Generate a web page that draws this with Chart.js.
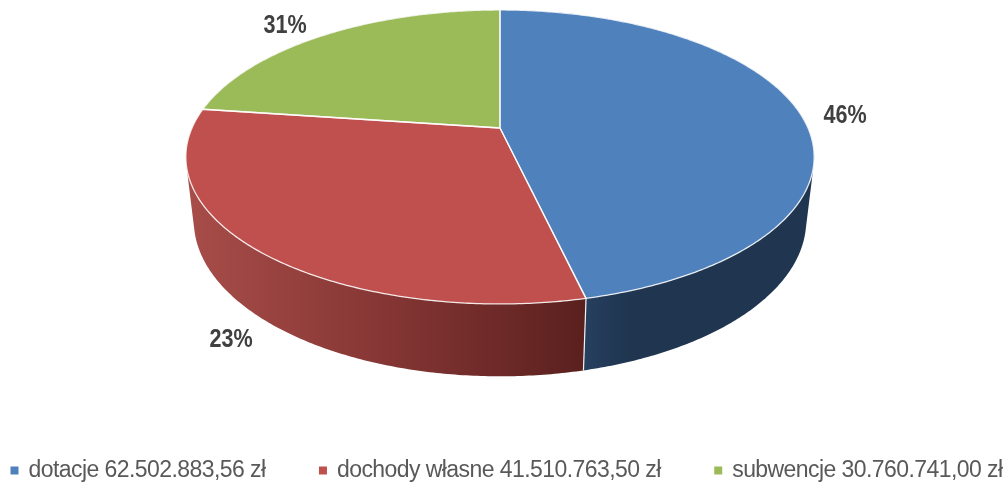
<!DOCTYPE html>
<html><head><meta charset="utf-8">
<style>html,body{margin:0;padding:0;background:#fff;overflow:hidden;width:1006px;height:483px}
#wrap{position:absolute;left:-43px;top:0;width:1150px;height:492px}</style>
<script src="https://cdn.jsdelivr.net/npm/chart.js@4"></script></head>
<body><div id="wrap"><canvas id="c" width="1150" height="492"></canvas></div>
<script>
const categories = ['dotacje 62.502.883,56 zł','dochody własne 41.510.763,50 zł','subwencje 30.760.741,00 zł'];
const values = [62502883.56, 41510763.50, 30760741.00];
const percentLabels = ['46%','23%','31%'];
const topColors = ['#4f81bd','#c0504d','#9bbb59'];

const OFFX = 43;
const labelCenters = [[845,114],[231,338],[285,24]];
const view = {cx:500+OFFX, cy:128, R:308, S:141.3, k:0.197, drop:64.3, c:0.025};
const wallStops = [
  [[0,'#26405f'],[0.2,'#1f3550'],[1,'#1f3550']],
  [[0,'#a84d49'],[0.5,'#853634'],[1,'#5a201e']],
  [[0,'#7c964a'],[1,'#5f7336']]
];
function topPt(a){const u=Math.cos(a),v=Math.sin(a),w=1-view.k*v;return [view.cx+view.R*u/w,view.cy+view.S*v/w];}
function botPt(a){const u=Math.cos(a),v=Math.sin(a),w=1-view.k*v+view.c;return [view.cx+view.R*u/w,view.cy+(view.S*v+view.drop)/w];}
function angles(a0,a1){const n=Math.max(2,Math.ceil((a1-a0)/0.01));const r=[];for(let i=0;i<=n;i++)r.push(a0+(a1-a0)*i/n);return r;}

const pie3d = {
  id:'pie3d',
  beforeLayout(chart){chart.ctx.letterSpacing='-0.57px';},
  beforeDraw(chart){chart.ctx.letterSpacing='-0.57px';},
  beforeDatasetDraw(chart,args){
    const ctx=chart.ctx, arcs=chart.getDatasetMeta(args.index).data;
    ctx.save();
    arcs.forEach((arc,i)=>{
      const as=angles(arc.startAngle,arc.endAngle);
      let minX=Infinity,maxX=-Infinity;
      ctx.beginPath();
      for(let j=0;j<as.length-1;j++){
        const q=[topPt(as[j]),topPt(as[j+1]),botPt(as[j+1]),botPt(as[j])];
        let area=0;q.forEach((p,m)=>{const n=q[(m+1)%4];area+=p[0]*n[1]-n[0]*p[1];});
        const o=area<0?q.slice().reverse():q;
        ctx.moveTo(o[0][0],o[0][1]);o.slice(1).forEach(p=>ctx.lineTo(p[0],p[1]));ctx.closePath();
        q.forEach(p=>{if(Math.sin(as[j])>0){minX=Math.min(minX,p[0]);maxX=Math.max(maxX,p[0]);}});
      }
      if(minX===Infinity){minX=0;maxX=1;}
      const g=ctx.createLinearGradient(minX,0,maxX,0);
      wallStops[i].forEach(s=>g.addColorStop(s[0],s[1]));
      ctx.fillStyle=g;ctx.fill();
    });
    arcs.forEach(arc=>{
      if(Math.sin(arc.startAngle)>0.5){
        const t=topPt(arc.startAngle),b=botPt(arc.startAngle);
        ctx.strokeStyle='#f2f2f2';ctx.lineWidth=1.2;
        ctx.beginPath();ctx.moveTo(t[0],t[1]);ctx.lineTo(b[0],b[1]);ctx.stroke();
      }
    });
    arcs.forEach((arc,i)=>{
      ctx.beginPath();ctx.moveTo(view.cx,view.cy);
      angles(arc.startAngle,arc.endAngle).forEach(a=>{const p=topPt(a);ctx.lineTo(p[0],p[1]);});
      ctx.closePath();
      ctx.fillStyle=topColors[i];ctx.fill();
    });
    ctx.strokeStyle='rgba(255,255,255,0.85)';ctx.lineWidth=1.3;ctx.lineJoin='round';
    arcs.forEach(arc=>{
      ctx.beginPath();ctx.moveTo(view.cx,view.cy);
      angles(arc.startAngle,arc.endAngle).forEach(a=>{const p=topPt(a);ctx.lineTo(p[0],p[1]);});
      ctx.closePath();ctx.stroke();
    });
    ctx.restore();
    return false;
  },
  afterDatasetsDraw(chart){
    const ctx=chart.ctx;
    ctx.save();
    ctx.letterSpacing='0px';
    ctx.font='bold 26px "Liberation Sans",Arial,sans-serif';
    ctx.fillStyle='#404040';ctx.textAlign='center';ctx.textBaseline='middle';
    percentLabels.forEach((t,i)=>{
      ctx.save();
      ctx.translate(labelCenters[i][0]+OFFX,labelCenters[i][1]+2);
      ctx.scale(0.83,1);
      ctx.fillText(t,0,0);
      ctx.restore();
    });
    ctx.restore();
  }
};

new Chart(document.getElementById('c'),{
  type:'pie',
  data:{labels:categories,datasets:[{data:values,backgroundColor:topColors,borderWidth:0}]},
  plugins:[pie3d],
  options:{
    responsive:false,animation:false,rotation:0,
    plugins:{
      tooltip:{enabled:false},
      legend:{
        position:'bottom',align:'start',
        labels:{usePointStyle:true,pointStyle:'rect',boxWidth:5,boxHeight:8,padding:55,color:'#595959',
          font:{family:'"Liberation Sans",Arial,sans-serif',size:23}}
      }
    }
  }
});
</script></body></html>
